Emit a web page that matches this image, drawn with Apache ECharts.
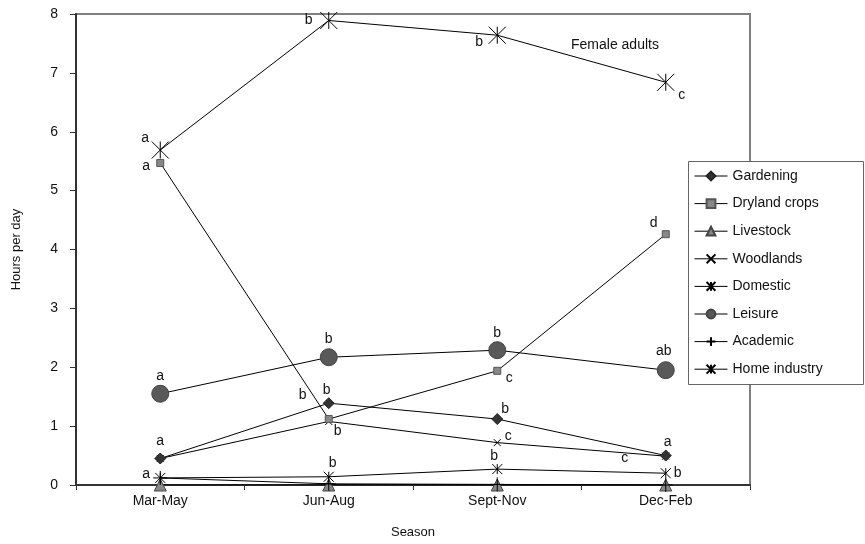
<!DOCTYPE html>
<html><head><meta charset="utf-8">
<script src="https://cdn.jsdelivr.net/npm/echarts@6/dist/echarts.min.js"></script>
<style>html,body{margin:0;padding:0;background:#fff}#c{width:865px;height:544px}</style>
</head><body><div id="c"></div>
<script>
// ---- data ----
const seasons = ['Mar-May', 'Jun-Aug', 'Sept-Nov', 'Dec-Feb'];
const seriesNames = ['Gardening', 'Dryland crops', 'Livestock', 'Woodlands', 'Domestic', 'Leisure', 'Academic', 'Home industry'];
const gardening = [0.45, 1.39, 1.12, 0.50];
const drylandCrops = [5.47, 1.12, 1.94, 4.26];
const livestock = [0, 0, 0, 0];
const woodlands = [0.45, 1.08, 0.72, 0.49];
const domestic = [5.69, 7.89, 7.64, 6.84];
const leisure = [1.55, 2.17, 2.29, 1.95];
const academic = [0.12, 0.02, 0.01, 0];
const homeIndustry = [0.12, 0.14, 0.27, 0.20];
const gardeningLetters = ['a', 'b', 'b', 'a'];
const drylandLetters = ['a', 'b', 'c', 'd'];
const livestockLetters = ['', '', '', ''];
const woodlandsLetters = ['', 'b', 'c', 'c'];
const domesticLetters = ['a', 'b', 'b', 'c'];
const leisureLetters = ['a', 'b', 'b', 'ab'];
const academicLetters = ['a', '', '', ''];
const homeIndustryLetters = ['', 'b', 'b', 'b'];
const yTicks = [0, 1, 2, 3, 4, 5, 6, 7, 8];
const panelTitle = 'Female adults';

// ---- styling ----
const FONT = 'Liberation Sans, Arial, sans-serif';
const P_X = 'path://M0 0L10 10M10 0L0 10';
const P_AST = 'path://M0 0L10 10M10 0L0 10M5 0L5 10';
const P_PLUS = 'path://M5 0L5 10M0 5L10 5';
const styles = [
  {symbol: 'diamond', size: 11, color: '#333', border: '#222', bw: 1,
   off: [[0, -17], [-2, -13], [8, -10], [2, -13]]},
  {symbol: 'rect', size: 7, color: '#888', border: '#555', bw: 1,
   off: [[-14, 3], [-26, -24], [12, 7], [-12, -11]]},
  {symbol: 'triangle', size: 12, color: '#888', border: '#444', bw: 1,
   off: [[0, 0], [0, 0], [0, 0], [0, 0]]},
  {symbol: P_X, size: 7, color: '#000', border: '#000', bw: 1,
   off: [[0, 0], [9, 10], [11, -6], [-41, 2]]},
  {symbol: P_AST, size: 17, color: '#000', border: '#000', bw: 1,
   off: [[-15, -12], [-20, 0], [-18, 7], [16, 13]]},
  {symbol: 'circle', size: 17, color: '#595959', border: '#444', bw: 1,
   off: [[0, -18], [0, -18], [0, -17], [-2, -19]]},
  {symbol: P_PLUS, size: 14, color: '#000', border: '#000', bw: 1,
   off: [[-14, -4], [0, 0], [0, 0], [0, 0]]},
  {symbol: P_AST, size: 10, color: '#000', border: '#000', bw: 1,
   off: [[0, 0], [4, -14], [-3, -13], [12, 0]]}
];
const values = [gardening, drylandCrops, livestock, woodlands, domestic, leisure, academic, homeIndustry];
const letters = [gardeningLetters, drylandLetters, livestockLetters, woodlandsLetters, domesticLetters, leisureLetters, academicLetters, homeIndustryLetters];
const drawOrder = [2, 6, 7, 3, 0, 1, 5, 4];

const series = drawOrder.map(i => {
  const s = styles[i];
  return {
    name: seriesNames[i], type: 'line', z: 3 + drawOrder.indexOf(i),
    symbol: s.symbol, symbolSize: s.size, showAllSymbol: true,
    lineStyle: {color: '#000', width: 1},
    itemStyle: {color: s.color, borderColor: s.border, borderWidth: s.bw},
    emphasis: {disabled: true},
    data: values[i].map((v, k) => ({
      value: v,
      label: {
        show: letters[i][k] !== '', formatter: letters[i][k],
        position: 'inside', offset: s.off[k],
        align: 'center', verticalAlign: 'middle',
        color: '#111', fontSize: 14, fontFamily: FONT
      }
    }))
  };
});

const chart = echarts.init(document.getElementById('c'), null, {renderer: 'canvas'});
chart.setOption({
  animation: false,
  backgroundColor: '#fff',
  textStyle: {fontFamily: FONT},
  title: {text: panelTitle, left: 566, top: 33, textStyle: {fontSize: 14, fontWeight: 'normal', color: '#111', fontFamily: FONT}},
  grid: {left: 76, top: 14, right: 115, bottom: 59, show: true, borderColor: '#808080', borderWidth: 2, backgroundColor: 'transparent'},
  graphic: [{
    type: 'rect', left: 688, top: 161, z: 30, silent: true,
    shape: {width: 175, height: 223},
    style: {fill: '#fff', stroke: '#666', lineWidth: 1}
  }],
  legend: {
    orient: 'vertical', left: 688, top: 161, z: 40,
    data: seriesNames,
    backgroundColor: 'transparent', borderWidth: 0,
    padding: [8, 8, 8, 6], itemWidth: 33, itemHeight: 11, itemGap: 13.6,
    lineStyle: {width: 1, color: '#000'},
    textStyle: {fontSize: 14, color: '#111', fontFamily: FONT},
    selectedMode: false
  },
  xAxis: {
    type: 'category', data: seasons, boundaryGap: true,
    name: 'Season', nameLocation: 'middle', nameGap: 41,
    nameTextStyle: {fontSize: 13, color: '#111', fontFamily: FONT},
    axisLine: {lineStyle: {color: '#333', width: 2}},
    axisTick: {show: true, length: 5, lineStyle: {color: '#333'}},
    axisLabel: {fontSize: 14, color: '#111', margin: 9, fontFamily: FONT},
    splitLine: {show: false}
  },
  yAxis: {
    type: 'value', min: 0, max: 8, interval: 1,
    name: 'Hours per day', nameLocation: 'middle', nameGap: 53,
    nameTextStyle: {fontSize: 13, color: '#111', fontFamily: FONT},
    axisLine: {show: true, lineStyle: {color: '#333', width: 2}},
    axisTick: {show: true, length: 6, lineStyle: {color: '#333'}},
    axisLabel: {fontSize: 14, color: '#111', margin: 18, fontFamily: FONT,
      formatter: v => yTicks.includes(v) ? String(v) : ''},
    splitLine: {show: false}
  },
  series: series
});
</script>
</body></html>
